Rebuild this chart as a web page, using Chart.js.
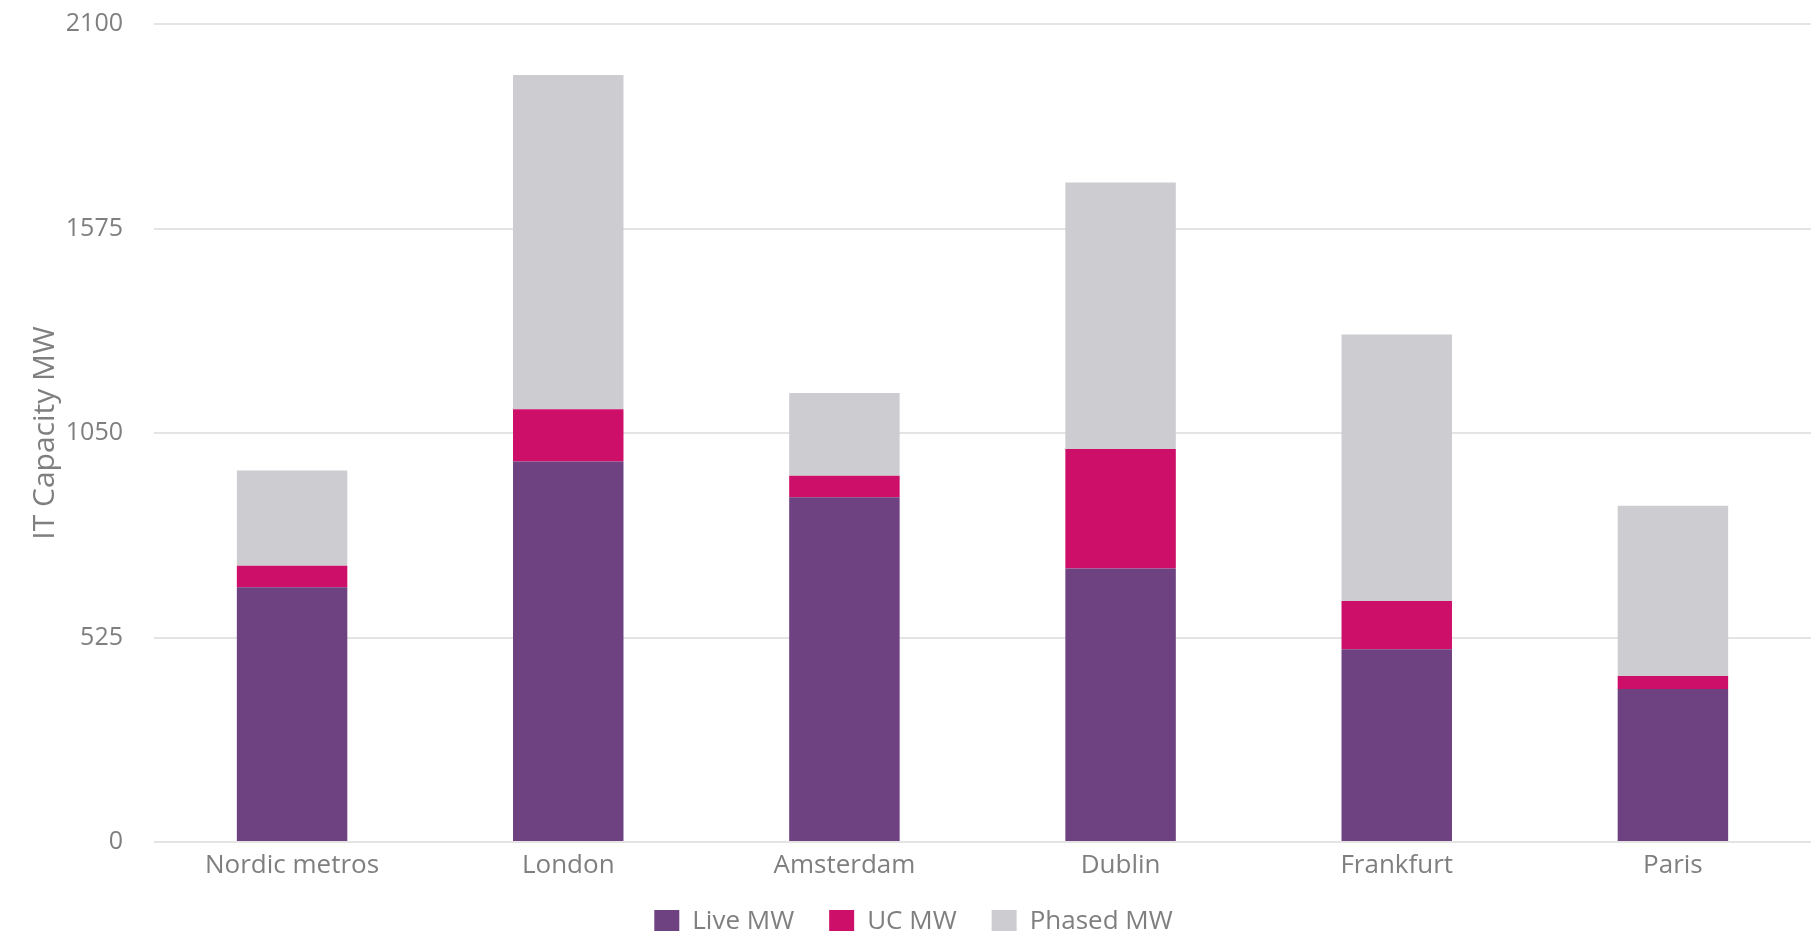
<!DOCTYPE html>
<html>
<head>
<meta charset="utf-8">
<script src="https://cdn.jsdelivr.net/npm/chart.js@4"></script>
<style>
  html, body { margin: 0; padding: 0; background: #fff; overflow: hidden; }
  #wrap { width: 1811px; height: 931px; overflow: hidden; }
</style>
</head>
<body>
<div id="wrap"><canvas id="c" width="1811" height="931" style="width:1811px;height:931px"></canvas></div>
<script>
const categories = ["Nordic metros", "London", "Amsterdam", "Dublin", "Frankfurt", "Paris"];
const liveMW = [654, 977, 885, 702, 495, 393];
const ucMW = [55, 134, 55, 307, 124, 33];
const phasedMW = [245, 858, 213, 684, 684, 437];
const yTicks = [0, 525, 1050, 1575, 2100];
const yTitle = "IT Capacity MW";

const textColor = "#7f7f7f";
const fontFamily = "'Open Sans', sans-serif";

const legendTweakPlugin = {
  id: "legendTweak",
  afterInit(chart) {
    const lg = chart.legend;
    if (!lg) return;
    const origFit = lg.fit.bind(lg);
    lg.fit = function () { origFit(); this.height = 57; };
    const origDraw = lg.draw.bind(lg);
    lg.draw = function () {
      const ctx = this.ctx;
      ctx.save();
      ctx.translate(8, 0);
      origDraw();
      ctx.restore();
    };
  }
};

new Chart(document.getElementById("c"), {
  type: "bar",
  data: {
    labels: categories,
    datasets: [
      { label: "Live MW", data: liveMW, backgroundColor: "#6e4180" },
      { label: "UC MW", data: ucMW, backgroundColor: "#cd0f69" },
      { label: "Phased MW", data: phasedMW, backgroundColor: "#cdccd1" }
    ]
  },
  plugins: [legendTweakPlugin],
  options: {
    responsive: false,
    animation: false,
    devicePixelRatio: 1,
    layout: { padding: { top: 24, right: 0, left: 0, bottom: 0 } },
    datasets: { bar: { barPercentage: 0.4, categoryPercentage: 1.0 } },
    plugins: {
      tooltip: { enabled: false },
      legend: {
        position: "bottom",
        labels: {
          boxWidth: 25,
          boxHeight: 24,
          padding: 35,
          color: textColor,
          font: { family: fontFamily, size: 26 }
        }
      }
    },
    scales: {
      x: {
        stacked: true,
        grid: { display: false, drawTicks: false },
        border: { display: false },
        ticks: { color: textColor, padding: 8, font: { family: fontFamily, size: 26 } },
        afterFit: (s) => { s.height = 32; }
      },
      y: {
        stacked: true,
        min: 0,
        max: 2100,
        afterBuildTicks: (s) => { s.ticks = yTicks.map(v => ({ value: v })); },
        grid: { color: "#e4e4e4", lineWidth: 2, drawTicks: false },
        border: { display: false },
        ticks: {
          color: textColor,
          padding: 31,
          font: { family: fontFamily, size: 25 },
          callback: (v) => String(v)
        },
        title: {
          display: true,
          text: yTitle,
          color: textColor,
          font: { family: fontFamily, size: 30 },
          padding: { top: 27, bottom: 0 }
        },
        afterFit: (s) => { s.width = 154; s.paddingTop = 10; s.paddingBottom = 10; }
      }
    }
  }
});
</script>
</body>
</html>
